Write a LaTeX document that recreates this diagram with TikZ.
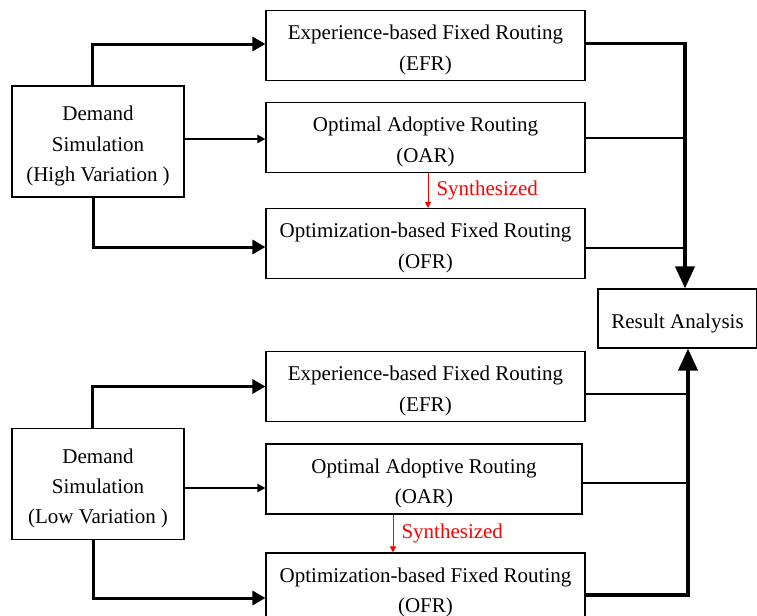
\documentclass[tikz,border=0pt]{standalone}
\usepackage{fontspec}
\setmainfont{Liberation Serif}
\usetikzlibrary{arrows.meta}
% lines of a box, set a little low like in the drawing
\newcommand\boxlines[1]{\raisebox{-1.75pt}[\height][\depth]{\begin{tabular}{@{}c@{}}#1\end{tabular}}}
\begin{document}
\begin{tikzpicture}[x=0.5pt,y=-0.5pt,
    box/.style={draw,line width=0.55pt,inner sep=0pt,
      font=\fontsize{10.5}{15.2}\selectfont},
    routebox/.style={box,minimum width=159.5pt,minimum height=35pt},
    demandbox/.style={box,minimum width=86pt,minimum height=55.5pt},
    fatarrow/.style={line width=1.5pt,-{Triangle[length=6.5pt,width=7pt]}},
    slimarrow/.style={line width=1pt,-{Triangle[length=4pt,width=4pt]}},
    busarrow/.style={line width=1.8pt,-{Triangle[length=11pt,width=9.5pt]}},
    busline/.style={line width=1pt},
    synarrow/.style={red,line width=0.5pt,-{Triangle[length=3pt,width=3pt]}}]
    \useasboundingbox (0,0) rectangle (757,616);
    % upper half: high variation
    \node[demandbox] (dem1) at (98,141.5) {\boxlines{Demand\\Simulation\\(High Variation )}};
    \node[routebox] (efr1) at (425.5,45.5) {\boxlines{Experience-based Fixed Routing\\(EFR)}};
    \node[routebox] (oar1) at (425.5,137.5) {\boxlines{Optimal Adoptive Routing\\(OAR)}};
    \node[routebox] (ofr1) at (425.5,243.5) {\boxlines{Optimization-based Fixed Routing\\(OFR)}};
    % result
    \node[box,minimum width=79.5pt,minimum height=29.5pt] (res) at (677.5,318.5) {\boxlines{Result Analysis}};
    % lower half: low variation
    \node[demandbox] (dem2) at (98,484) {\boxlines{Demand\\Simulation\\(Low Variation )}};
    \node[routebox] (efr2) at (425.5,386.5) {\boxlines{Experience-based Fixed Routing\\(EFR)}};
    \node[routebox,minimum width=158pt] (oar2) at (424,479) {\boxlines{Optimal Adoptive Routing\\(OAR)}};
    \node[routebox] (ofr2) at (425.5,588) {\boxlines{Optimization-based Fixed Routing\\(OFR)}};
    \coordinate (bus1) at (685,43);
    \coordinate (bus2) at (688,595);
    \coordinate (syn1) at (428,190);
    \coordinate (syn2) at (393,533);
    % connectors, upper
    \draw[fatarrow] ([xshift=-3pt]dem1.north) |- ([yshift=0.75pt]efr1.west);
    \draw[slimarrow] ([yshift=1.25pt]dem1.east) -- ([yshift=1.25pt]dem1.east -| oar1.west);
    \draw[fatarrow] ([xshift=-2.5pt]dem1.south) |- ([yshift=-1.75pt]ofr1.west);
    \draw[synarrow] (oar1.south -| syn1) -- (ofr1.north -| syn1)
        node[midway,right,text=red,inner sep=4pt,font=\fontsize{10.5}{12}\selectfont] {Synthesized};
    \draw[busarrow] ([yshift=1pt]efr1.east) -| (res.north -| bus1);
    \draw[busline] (oar1.east) -- (oar1.east -| bus1);
    \draw[busline] ([yshift=-2.25pt]ofr1.east) -- ([yshift=-2.25pt]ofr1.east -| bus1);
    % connectors, lower
    \draw[fatarrow] ([xshift=-3pt]dem2.north) |- (efr2.west);
    \draw[slimarrow] ([yshift=-2pt]dem2.east) -- ([yshift=-2pt]dem2.east -| oar2.west);
    \draw[fatarrow] ([xshift=-2.5pt]dem2.south) |- ([yshift=-5pt]ofr2.west);
    \draw[synarrow] (oar2.south -| syn2) -- (ofr2.north -| syn2)
        node[midway,right,text=red,inner sep=4pt,font=\fontsize{10.5}{12}\selectfont] {Synthesized};
    \draw[busarrow] ([yshift=-3.5pt]ofr2.east) -| (res.south -| bus2);
    \draw[busline] ([yshift=-3.5pt]efr2.east) -- ([yshift=-3.5pt]efr2.east -| bus2);
    \draw[busline] ([yshift=-2pt]oar2.east) -- ([yshift=-2pt]oar2.east -| bus2);
\end{tikzpicture}
\end{document}
